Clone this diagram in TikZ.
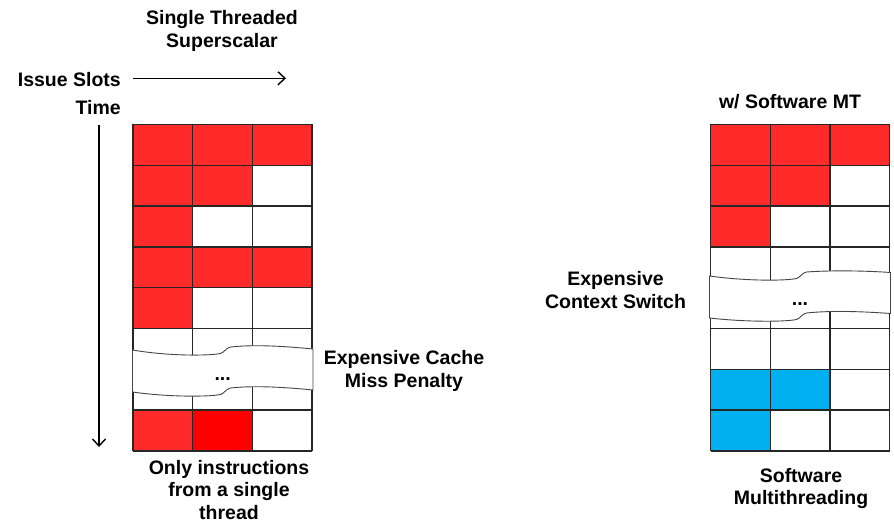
\documentclass[tikz,border=0pt]{standalone}
\usepackage{fontspec}
\setmainfont{Liberation Sans}
\usetikzlibrary{arrows.meta}
\definecolor{cellred}{RGB}{255,42,42}
\definecolor{purered}{RGB}{255,0,0}
\definecolor{cellblue}{RGB}{0,176,240}
\definecolor{bandgray}{RGB}{70,70,70}
\begin{document}
\begin{tikzpicture}[x=1pt,y=-1pt,
  lbl/.style={font=\fontsize{19.5}{22.5}\selectfont\bfseries, inner sep=0pt, align=center},
  gridline/.style={line width=1.3pt, draw=black!85},
  arrowline/.style={line width=1.4pt, -{Straight Barb[length=7pt,width=13pt]}},
  bandshape/.style={fill=white, draw=bandgray, line width=0.9pt}]
\useasboundingbox (0,0) rectangle (894,524);
\def\cellW{59.7}
\def\cellH{40.8}
\def\yTop{124.5}
% ---------- left grid ----------
\def\xL{133}
\foreach \r/\c in {0/0,0/1,0/2,1/0,1/1,2/0,3/0,3/1,3/2,4/0,7/0}
  \fill[cellred] (\xL+\c*\cellW, \yTop+\r*\cellH) rectangle ++(\cellW,\cellH);
\fill[purered] (\xL+1*\cellW, \yTop+7*\cellH) rectangle ++(\cellW,\cellH);
\foreach \i in {0,...,3}
  \draw[gridline] (\xL+\i*\cellW, \yTop) -- ++(0, 8*\cellH);
\foreach \j in {0,...,8}
  \draw[gridline] (\xL, \yTop+\j*\cellH) -- ++(3*\cellW, 0);
% ---------- right grid ----------
\def\xR{710.5}
\foreach \r/\c in {0/0,0/1,0/2,1/0,1/1,2/0}
  \fill[cellred] (\xR+\c*\cellW, \yTop+\r*\cellH) rectangle ++(\cellW,\cellH);
\foreach \r/\c in {6/0,6/1,7/0}
  \fill[cellblue] (\xR+\c*\cellW, \yTop+\r*\cellH) rectangle ++(\cellW,\cellH);
\foreach \i in {0,...,3}
  \draw[gridline] (\xR+\i*\cellW, \yTop) -- ++(0, 8*\cellH);
\foreach \j in {0,...,8}
  \draw[gridline] (\xR, \yTop+\j*\cellH) -- ++(3*\cellW, 0);
% ---------- wavy bands ----------
\begin{scope}[shift={(132.5,350)}]
\draw[bandshape] (0,0) .. controls (35,6) and (75,6) .. (88,3.5)
  .. controls (92,2.5) and (93,-2) .. (98,-3)
  .. controls (125,-6) and (160,-3) .. (180.5,-1)
  -- (180.5,40)
  .. controls (160,38) and (125,35) .. (98,38)
  .. controls (93,39) and (92,43.5) .. (88,44.5)
  .. controls (75,47) and (35,47) .. (0,42) -- cycle;
\end{scope}
\begin{scope}[shift={(709.5,276)}]
\draw[bandshape] (0,0) .. controls (35,5) and (75,5) .. (87,2.5)
  .. controls (91,1.5) and (92,-3) .. (97,-4)
  .. controls (125,-6) and (160,-5) .. (181,-3.5)
  -- (181,37.5)
  .. controls (160,36) and (125,34) .. (97,37)
  .. controls (92,38) and (91,42.5) .. (87,43.5)
  .. controls (75,46) and (35,46) .. (0,42) -- cycle;
\end{scope}
\node[lbl] (dotsL) at (222.7,379) {...};
\node[lbl] (dotsR) at (800,304) {...};
% ---------- labels ----------
\node[lbl] (title) at (222,31) {Single Threaded\\Superscalar};
\node[lbl, anchor=east] (issue) at (121,80) {Issue Slots};
\node[lbl, anchor=east] (time) at (121,108) {Time};
\node[lbl] (cache) at (404,371) {Expensive Cache\\Miss Penalty};
\node[lbl] (ctx) at (615.5,290) {Expensive\\Context Switch};
\node[lbl] (swmt) at (790,102) {w/ Software MT};
\node[lbl] (only) at (229,490) {Only instructions\\from a single\\thread};
\node[lbl] (swmulti) at (801,488.5) {Software\\Multithreading};
% ---------- arrows ----------
\coordinate (isA) at (133,78.3);
\coordinate (isB) at (286,78.3);
\draw[arrowline] (isA) -- (isB);
\coordinate (tA) at (99,125);
\coordinate (tB) at (99,447);
\draw[arrowline] (tA) -- (tB);
\end{tikzpicture}
\end{document}
